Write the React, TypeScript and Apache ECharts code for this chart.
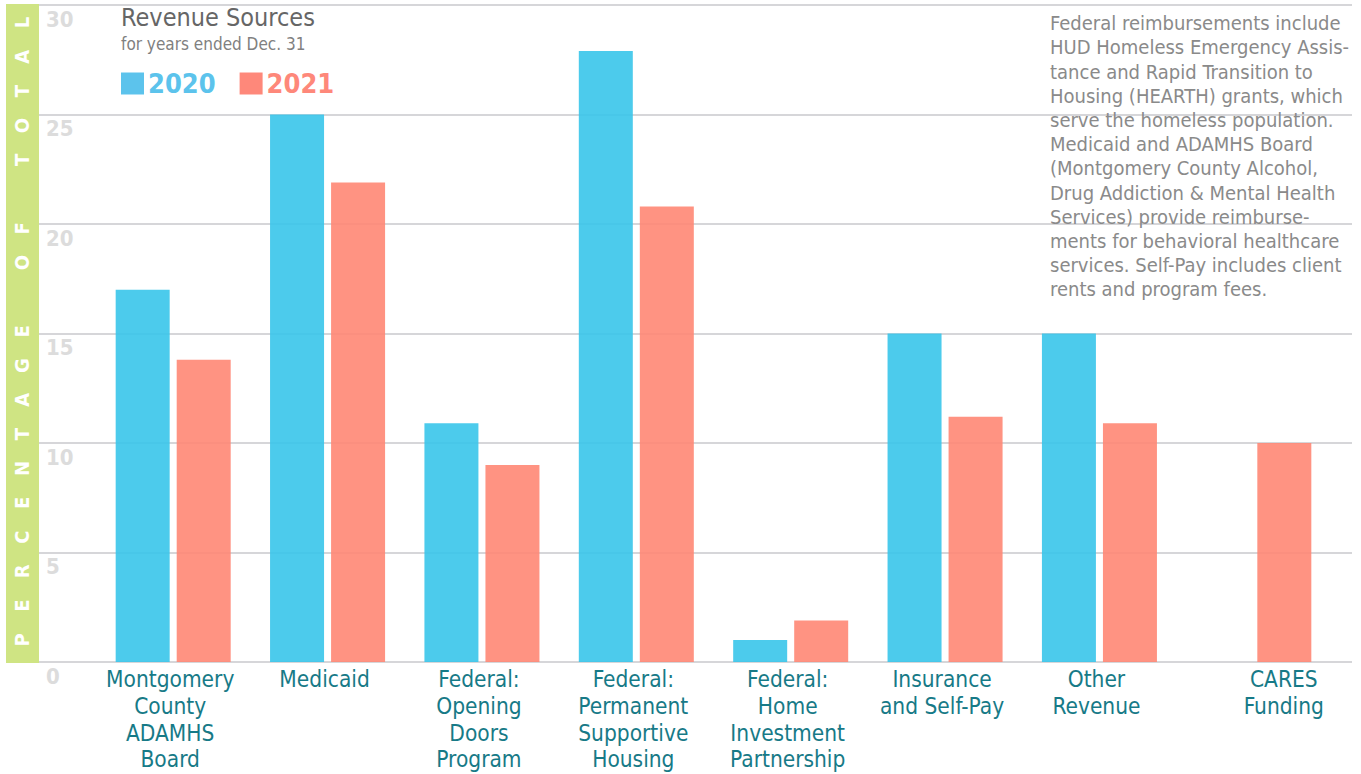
import React, { useEffect, useRef } from 'react';
import * as echarts from 'echarts';

const categories = [
  'Montgomery\nCounty\nADAMHS\nBoard',
  'Medicaid',
  'Federal:\nOpening\nDoors\nProgram',
  'Federal:\nPermanent\nSupportive\nHousing',
  'Federal:\nHome\nInvestment\nPartnership',
  'Insurance\nand Self-Pay',
  'Other\nRevenue',
  'CARES\nFunding',
];
const values2020: (number | null)[] = [17, 25, 10.9, 27.9, 1, 15, 15, null];
const values2021: (number | null)[] = [13.8, 21.9, 9, 20.8, 1.9, 11.2, 10.9, 10];
const seriesNames = ['2020', '2021'];
const yMin = 0;
const yMax = 30;
const yInterval = 5;
const titleText = 'Revenue Sources';
const subtitleText = 'for years ended Dec. 31';
const axisTitle = 'PERCENTAGE OF TOTAL';
const noteLines = [
  'Federal reimbursements include',
  'HUD Homeless Emergency Assis-',
  'tance and Rapid Transition to',
  'Housing (HEARTH) grants, which',
  'serve the homeless population.',
  'Medicaid and ADAMHS Board',
  '(Montgomery County Alcohol,',
  'Drug Addiction & Mental Health',
  'Services) provide reimburse-',
  'ments for behavioral healthcare',
  'services. Self-Pay includes client',
  'rents and program fees.',
];

const FONT = 'Tahoma, "DejaVu Sans Condensed", "DejaVu Sans", sans-serif';
const BLUE = 'rgba(57,197,234,0.9)';
const RED = 'rgba(255,135,116,0.9)';
const LEGEND_BLUE = '#5cc3ec';
const LEGEND_RED = '#fe887a';

export default function App() {
  const ref = useRef<HTMLDivElement>(null);
  useEffect(() => {
    if (!ref.current) return;
    const chart = echarts.init(ref.current, null, { renderer: 'svg' });

    const letterStep = 34.3;
    const letters = axisTitle.split('').map((ch, i) => ({
      type: 'text',
      x: 22,
      y: 640 - i * letterStep,
      rotation: Math.PI / 2,
      style: {
        text: ch,
        fill: '#ffffff',
        font: `bold 20px ${FONT}`,
        align: 'center',
        verticalAlign: 'middle',
      },
      z: 10,
    }));

    const option: any = {
      animation: false,
      backgroundColor: '#ffffff',
      title: {
        text: titleText,
        subtext: subtitleText,
        left: 121,
        top: 5,
        padding: 0,
        itemGap: 5,
        textStyle: { fontFamily: FONT, fontSize: 25, fontWeight: 'normal', color: '#666666' },
        subtextStyle: { fontFamily: FONT, fontSize: 17, color: '#808080' },
      },
      legend: {
        left: 121,
        top: 70,
        padding: 0,
        itemWidth: 23,
        itemHeight: 22,
        itemGap: 24,
        icon: 'rect',
        data: [
          { name: seriesNames[0], itemStyle: { color: LEGEND_BLUE }, textStyle: { color: LEGEND_BLUE } },
          { name: seriesNames[1], itemStyle: { color: LEGEND_RED }, textStyle: { color: LEGEND_RED } },
        ],
        textStyle: { fontFamily: FONT, fontSize: 27, fontWeight: 'bold', padding: [3, 0, 0, -1] },
      },
      grid: [
        { left: 38, right: 9, top: 5, bottom: 112, containLabel: false },
        { left: 96, right: 30, top: 5, bottom: 112, containLabel: false },
      ],
      xAxis: [
        { type: 'value', gridIndex: 0, show: false, min: 0, max: 1 },
        {
          type: 'category',
          gridIndex: 1,
          data: categories.map((c, i) =>
            i === categories.length - 1 ? { value: c, textStyle: { padding: [0, 0, 0, 60] } } : c
          ),
          axisLine: { show: false },
          axisTick: { show: false },
          axisLabel: {
            interval: 0,
            margin: 4,
            fontFamily: FONT,
            fontSize: 22.5,
            lineHeight: 26.7,
            color: '#177a87',
            padding: [0, 6, 0, 0],
          },
        },
      ],
      yAxis: [
        {
          type: 'value',
          gridIndex: 0,
          min: yMin,
          max: yMax,
          interval: yInterval,
          axisLine: { show: false },
          axisTick: { show: false },
          splitLine: { show: true, lineStyle: { color: '#c8c8cc', width: 1.6 } },
          axisLabel: {
            inside: true,
            margin: 8,
            align: 'left',
            verticalAlign: 'top',
            padding: [3, 0, 0, 0],
            fontFamily: FONT,
            fontSize: 22,
            fontWeight: 'bold',
            color: '#dcdcdc',
          },
        },
        {
          type: 'value',
          gridIndex: 1,
          min: yMin,
          max: yMax,
          interval: yInterval,
          show: false,
          splitLine: { show: false },
        },
      ],
      series: [
        {
          name: seriesNames[0],
          type: 'bar',
          xAxisIndex: 1,
          yAxisIndex: 1,
          data: values2020,
          barWidth: 54,
          barGap: '13%',
          itemStyle: { color: BLUE },
          z: 3,
        },
        {
          name: seriesNames[1],
          type: 'bar',
          xAxisIndex: 1,
          yAxisIndex: 1,
          data: values2021,
          barWidth: 54,
          barGap: '13%',
          itemStyle: { color: RED },
          z: 3,
        },
      ],
      graphic: [
        {
          type: 'rect',
          shape: { x: 6, y: 4, width: 33, height: 659 },
          style: { fill: '#cfe483' },
          z: 5,
        },
        ...letters,
        {
          type: 'text',
          x: 1050,
          y: 11,
          style: {
            text: noteLines.join('\n'),
            fill: '#8a8a8a',
            font: `20px ${FONT}`,
            lineHeight: 24.2,
            align: 'left',
            verticalAlign: 'top',
          },
          z: 10,
        },
      ],
    };
    chart.setOption(option);
    return () => chart.dispose();
  }, []);
  return (
    <div
      ref={ref}
      style={{ position: 'fixed', left: 0, top: 0, width: 1361, height: 774, background: '#fff' }}
    />
  );
}
